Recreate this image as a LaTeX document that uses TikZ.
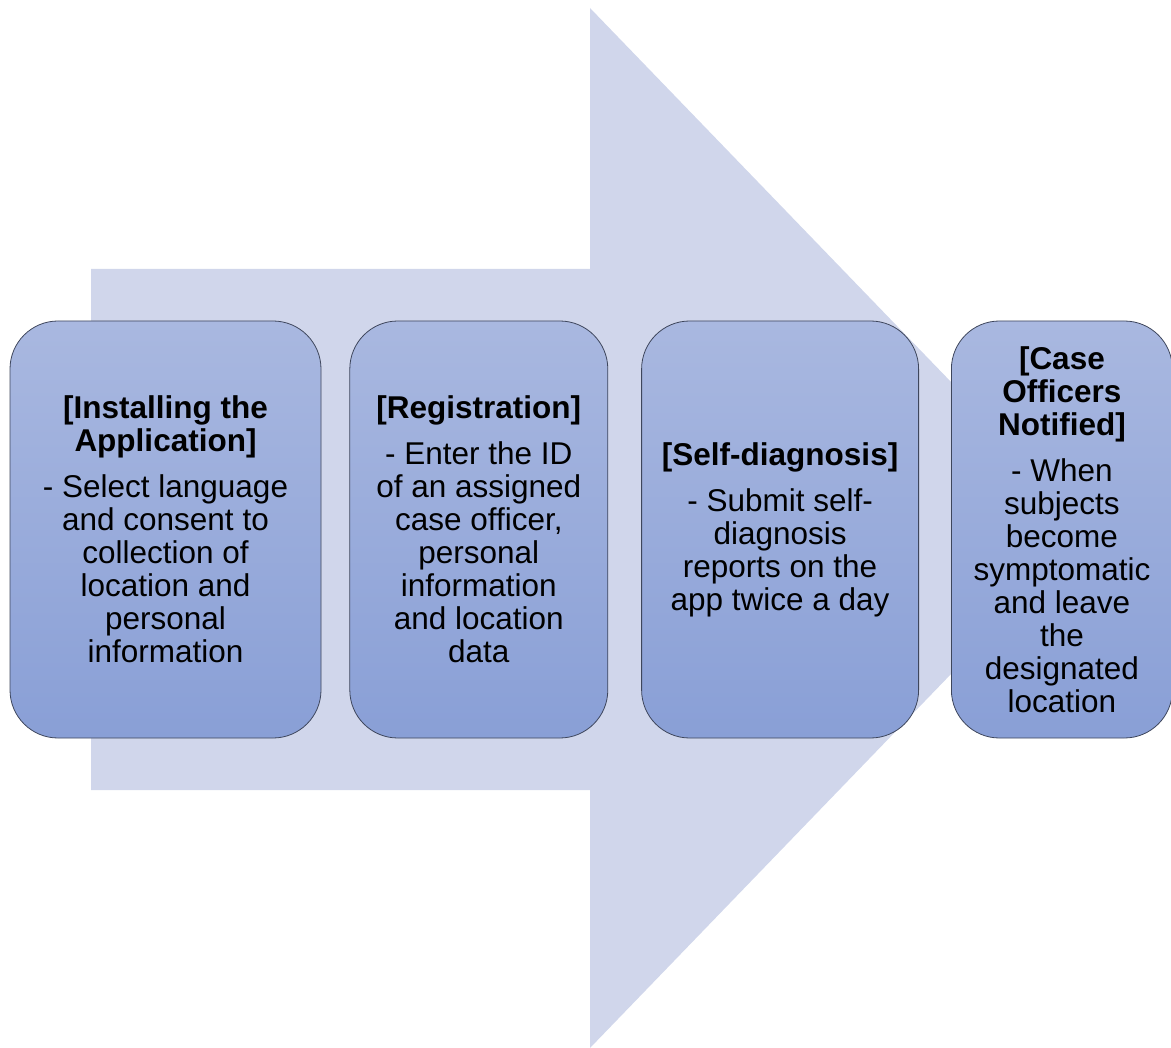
\documentclass[tikz,border=0pt]{standalone}
\usepackage{fontspec}
\setmainfont{Liberation Sans}
\usetikzlibrary{positioning}

\definecolor{arrowfill}{RGB}{208,214,235}
\definecolor{boxtop}{RGB}{169,184,224}
\definecolor{boxbottom}{RGB}{137,159,214}
\definecolor{boxline}{RGB}{62,70,92}

\tikzset{
	stage/.style={draw=boxline, line width=0.8pt, rounded corners=48pt,
		top color=boxtop, bottom color=boxbottom, minimum height=417pt,
		align=center, inner sep=0pt, font=\fontsize{31.5}{33}\selectfont},
}

\begin{document}
\begin{tikzpicture}[x=1pt, y=-1pt]
	\useasboundingbox (0,0) rectangle (1171,1048);
	% background arrow
	\fill[arrowfill] (91,269) -- (590,269) -- (590,8) -- (1092,528)
		-- (590,1048) -- (590,790) -- (91,790) -- cycle;
	
	\node[stage, minimum width=311pt] (install) at (165.5,529.5)
		{\textbf{[Installing the}\\\textbf{Application]}\\[13pt]
		- Select language\\and consent to\\collection of\\location and\\personal\\information};
	\node[stage, minimum width=258pt, right=28pt of install] (register)
		{\textbf{[Registration]}\\[13pt]
		- Enter the ID\\of an assigned\\case officer,\\personal\\information\\and location\\data};
	\node[stage, minimum width=277pt, right=33pt of register] (diagnose)
		{\textbf{[Self-diagnosis]}\\[13pt]
		- Submit self-\\diagnosis\\reports on the\\app twice a day};
	\node[stage, minimum width=221pt, right=32pt of diagnose] (notify)
		{\textbf{[Case}\\\textbf{Officers}\\\textbf{Notified]}\\[13pt]
		- When\\subjects\\become\\symptomatic\\and leave\\the\\designated\\location};
\end{tikzpicture}
\end{document}
